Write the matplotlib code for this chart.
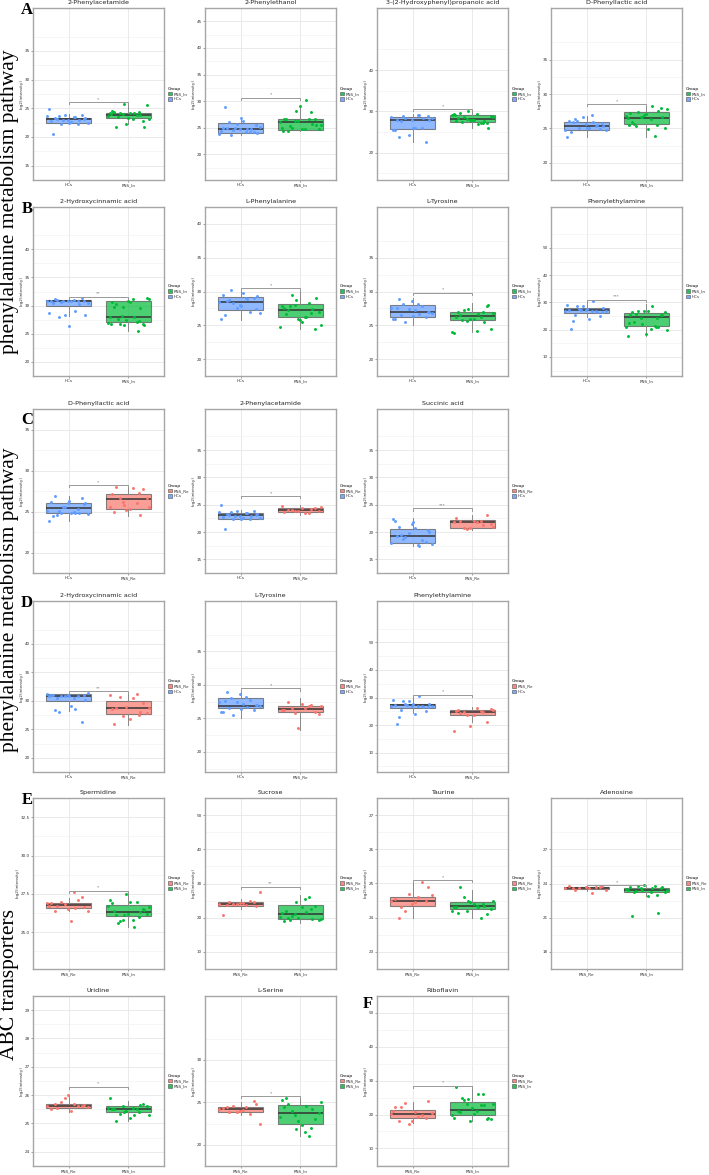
import numpy as np
import matplotlib
matplotlib.use("Agg")
import matplotlib.pyplot as plt
from matplotlib.patches import Patch

# ---------------- colours ----------------
COL = {"HCs": "#619CFF", "PNS_In": "#00BA38", "PNS_Re": "#F8766D"}

# ---------------- data (box = whislo, q1, med, q3, whishi) ----------------
# Row A
a1_title = "2-Phenylacetamide"
a1_box_hcs = [22.2, 22.43, 23.07, 23.35, 24.0]
a1_box_in = [22.3, 23.3, 23.85, 24.2, 25.7]
a1_pts_hcs = [23.6, 23.5, 23.1, 23.2, 22.9, 22.8, 22.3, 22.3, 22.5, 22.6, 23.3, 23.8, 23.9, 24.95, 23.5, 23.6, 23.3, 22.4, 20.5, 23.0, 22.9]
a1_pts_in = [24.5, 24.4, 24.0, 23.1, 23.2, 21.7, 22.8, 22.3, 24.2, 23.9, 24.1, 25.6, 24.1, 24.3, 23.8, 25.8, 23.6, 24.2, 23.5, 21.8, 23.4, 24.0]

a2_title = "2-Phenylethanol"
a2_box_hcs = [23.6, 24.06, 24.7, 25.9, 26.8]
a2_box_in = [24.4, 24.65, 26.06, 26.65, 29.1]
a2_pts_hcs = [23.8, 24.2, 26.0, 25.5, 24.7, 25.0, 24.2, 24.5, 25.2, 26.2, 24.9, 24.3, 25.8, 24.4, 24.8, 23.6, 24.0, 26.9, 29.0, 24.8, 25.0]
a2_pts_in = [26.6, 28.0, 26.3, 25.6, 24.8, 24.4, 26.6, 26.2, 25.0, 26.6, 24.9, 24.7, 24.8, 26.7, 25.8, 28.1, 26.0, 30.3, 25.3, 25.6, 29.1, 24.4]

a3_title = "3-(2-Hydroxyphenyl)propanoic acid"
a3_box_hcs = [22.6, 25.7, 27.8, 28.6, 29.4]
a3_box_in = [25.9, 27.35, 28.13, 29.16, 30.2]
a3_pts_hcs = [28.6, 29.2, 27.6, 28.8, 27.9, 25.5, 25.9, 28.4, 28.4, 26.0, 23.8, 22.7, 24.3, 25.6, 29.1, 29.0, 27.8, 26.0, 28.0, 28.5]
a3_pts_in = [27.7, 27.3, 28.2, 28.7, 29.4, 29.5, 27.2, 28.0, 29.3, 27.3, 28.6, 29.0, 27.8, 28.3, 27.6, 30.1, 29.2, 26.9, 27.5, 25.9, 28.0, 29.1]

a4_title = "D-Phenyllactic acid"
a4_box_hcs = [23.8, 24.8, 25.4, 26.0, 26.85]
a4_box_in = [23.8, 25.7, 26.55, 27.35, 28.2]
a4_pts_hcs = [24.8, 26.9, 26.4, 25.8, 25.6, 26.1, 25.4, 25.1, 24.7, 25.0, 26.0, 24.9, 26.6, 23.8, 25.9, 26.1, 25.3, 25.0, 24.5, 25.5]
a4_pts_in = [27.2, 25.5, 26.7, 27.8, 26.4, 25.7, 27.9, 26.9, 26.5, 23.9, 27.4, 25.1, 24.9, 26.0, 27.6, 26.6, 26.8, 28.2, 25.4, 26.7, 27.1, 25.5]

# Row B
b1_title = "2-Hydroxycinnamic acid"
b1_box_hcs = [28.1, 29.85, 30.9, 30.95, 31.35]
b1_box_in = [25.5, 27.1, 28.0, 30.8, 31.4]
b1_pts_hcs = [30.9, 31.0, 31.0, 30.9, 30.9, 30.8, 30.8, 30.6, 30.4, 30.9, 31.1, 31.3, 28.3, 28.6, 29.0, 28.0, 28.3, 26.3, 30.5, 30.2, 30.8]
b1_pts_in = [30.7, 27.3, 29.8, 31.1, 31.1, 30.2, 26.7, 27.5, 27.9, 27.0, 26.7, 31.3, 30.7, 29.7, 29.5, 26.5, 26.9, 28.0, 27.7, 26.5, 30.8, 26.7, 25.4, 28.2]

b2_title = "L-Phenylalanine"
b2_box_hcs = [25.8, 27.3, 28.5, 29.2, 30.3]
b2_box_in = [24.5, 26.3, 27.3, 28.2, 30.0]
b2_pts_hcs = [28.5, 29.0, 28.8, 27.4, 28.0, 29.5, 27.0, 28.3, 26.8, 29.8, 28.6, 29.1, 27.5, 26.0, 28.9, 30.2, 29.3, 27.8, 26.5]
b2_pts_in = [27.5, 26.8, 28.0, 25.0, 26.3, 27.2, 24.5, 26.0, 27.8, 28.3, 29.5, 27.0, 25.5, 26.6, 27.4, 28.8, 24.8, 26.2, 27.9, 29.0, 25.8]

b3_title = "L-Tyrosine"
b3_box_hcs = [25.0, 26.2, 27.0, 28.0, 29.0]
b3_box_in = [24.0, 25.8, 26.4, 27.0, 28.3]
b3_pts_hcs = [27.5, 28.2, 26.5, 27.0, 28.6, 26.0, 27.8, 25.5, 26.8, 27.2, 28.9, 26.3, 27.4, 25.9, 26.7, 28.1, 27.0, 26.4, 27.6]
b3_pts_in = [26.2, 27.0, 25.6, 26.8, 24.2, 26.5, 27.8, 25.9, 23.9, 26.3, 27.2, 24.5, 26.0, 26.9, 25.5, 27.4, 24.0, 26.6, 25.8, 28.0]

b4_title = "Phenylethylamine"
b4_box_hcs = [24.5, 26.1, 27.2, 27.8, 30.7]
b4_box_in = [17.7, 21.2, 24.8, 26.1, 29.3]
b4_pts_hcs = [26.8, 27.0, 25.5, 26.4, 27.1, 27.3, 26.9, 27.5, 26.8, 24.0, 23.0, 25.0, 28.8, 29.0, 30.4, 28.7, 27.8, 27.6, 20.4, 26.5, 27.2]
b4_pts_in = [25.4, 24.4, 24.1, 20.0, 20.2, 22.7, 25.5, 26.9, 17.8, 21.3, 27.0, 26.4, 26.7, 26.5, 21.0, 22.0, 21.1, 28.5, 25.8, 25.3, 18.5, 22.3, 20.9]

# Row C
c1_title = "D-Phenyllactic acid"
c1_box_hcs = [23.8, 24.86, 25.43, 26.07, 26.9]
c1_box_re = [24.5, 25.36, 26.5, 27.1, 28.07]
c1_pts_hcs = [25.1, 25.0, 24.6, 25.9, 26.0, 26.1, 25.3, 24.8, 24.7, 24.8, 26.9, 26.6, 25.5, 23.8, 24.8, 25.1, 26.0, 26.3, 24.4, 24.8, 25.5]
c1_pts_re = [27.1, 27.2, 26.1, 25.6, 27.9, 28.0, 27.8, 25.2, 25.5, 26.0, 26.6, 26.6, 25.3, 24.9, 24.6, 25.8]

c2_title = "2-Phenylacetamide"
c2_box_hcs = [22.2, 22.45, 23.2, 23.4, 24.0]
c2_box_re = [23.2, 23.6, 24.0, 24.3, 24.9]
c2_pts_hcs = [23.6, 23.5, 23.1, 23.2, 22.9, 22.8, 22.3, 22.3, 22.5, 22.6, 23.3, 23.8, 23.9, 24.95, 23.5, 23.6, 23.3, 22.4, 20.5, 23.0, 22.9]
c2_pts_re = [23.7, 24.2, 23.9, 24.6, 23.5, 24.0, 24.3, 23.8, 24.8, 23.4, 24.1, 23.9, 24.4]

c3_title = "Succinic acid"
c3_box_hcs = [17.5, 17.9, 19.2, 20.5, 22.5]
c3_box_re = [20.3, 20.8, 21.8, 22.2, 23.2]
c3_pts_hcs = [18.0, 17.6, 19.5, 20.3, 21.5, 22.0, 18.5, 19.0, 17.8, 20.8, 21.0, 18.2, 19.8, 22.3, 17.5, 18.8, 20.0, 21.8, 19.3]
c3_pts_re = [22.5, 21.2, 20.6, 20.9, 21.8, 22.0, 23.2, 20.7, 21.9, 22.1, 20.8, 21.5, 22.0]

# Row D
d1_title = "2-Hydroxycinnamic acid"
d1_box_hcs = [28.2, 29.9, 30.9, 31.2, 31.6]
d1_box_re = [25.8, 27.7, 28.75, 29.95, 31.5]
d1_pts_hcs = [31.1, 30.5, 30.5, 31.0, 31.0, 31.0, 30.9, 30.8, 31.3, 29.0, 28.3, 26.3, 30.9, 30.9, 28.6, 28.0, 30.2, 30.8, 31.0]
d1_pts_re = [28.5, 27.5, 27.3, 28.8, 30.4, 28.7, 29.6, 28.9, 31.0, 31.2, 30.7, 27.9, 26.8, 25.9, 28.1]

d2_title = "L-Tyrosine"
d2_box_hcs = [25.0, 26.6, 26.9, 27.97, 29.0]
d2_box_re = [23.3, 25.9, 26.4, 26.9, 28.0]
d2_pts_hcs = [27.5, 28.2, 26.5, 27.0, 28.6, 26.0, 27.8, 25.5, 26.8, 27.2, 28.9, 26.3, 27.4, 25.9, 26.7, 28.1, 27.0, 26.4, 27.6]
d2_pts_re = [26.2, 27.0, 25.8, 26.8, 26.5, 27.5, 25.9, 23.5, 26.3, 26.9, 26.6, 25.6, 27.2]

d3_title = "Phenylethylamine"
d3_box_hcs = [24.5, 26.1, 27.2, 27.8, 30.7]
d3_box_re = [21.0, 23.5, 24.8, 25.5, 26.5]
d3_pts_hcs = [26.8, 27.0, 25.5, 26.4, 27.1, 27.3, 26.9, 27.5, 26.8, 24.0, 23.0, 25.0, 28.8, 29.0, 30.4, 28.7, 27.8, 27.6, 20.4, 26.5, 27.2]
d3_pts_re = [25.0, 24.8, 23.8, 25.5, 26.3, 24.5, 21.0, 19.5, 18.0, 25.2, 24.9, 26.0, 23.6, 25.3]

# Row E
e1_title = "Spermidine"
e1_box_re = [26.38, 26.55, 26.8, 26.9, 27.22]
e1_box_in = [25.33, 26.04, 26.29, 26.78, 27.7]
e1_pts_re = [26.93, 27.62, 26.74, 26.64, 26.5, 26.91, 27.11, 26.97, 26.37, 25.72, 26.41, 27.27, 26.84, 26.68, 26.6]
e1_pts_in = [26.93, 25.96, 25.8, 26.66, 25.82, 26.15, 26.48, 27.5, 27.09, 26.97, 25.7, 26.17, 26.97, 26.39, 26.29, 26.15, 26.68, 25.31, 25.6, 26.45, 26.21]

e2_title = "Sucrose"
e2_box_re = [22.5, 23.5, 24.0, 24.5, 25.5]
e2_box_in = [18.5, 19.5, 21.0, 23.8, 26.5]
e2_pts_re = [24.0, 23.8, 24.5, 23.5, 24.2, 20.8, 24.8, 23.9, 27.5, 24.3, 23.6, 24.6, 24.1]
e2_pts_in = [19.0, 22.5, 21.0, 19.5, 25.5, 20.0, 23.5, 19.8, 21.5, 26.0, 20.5, 19.2, 23.0, 22.0, 19.6, 24.5, 20.2, 21.8, 19.3]

e3_title = "Taurine"
e3_box_re = [24.0, 24.35, 24.5, 24.6, 25.0]
e3_box_in = [24.0, 24.25, 24.35, 24.45, 24.8]
e3_pts_re = [24.5, 24.6, 24.3, 24.9, 24.4, 24.55, 25.05, 24.2, 24.65, 24.45, 24.0, 24.5, 24.7]
e3_pts_in = [24.3, 24.4, 24.2, 24.5, 24.35, 24.9, 24.1, 24.45, 24.3, 24.0, 24.6, 24.25, 24.4, 24.15, 24.35, 24.5, 24.2, 24.3]

e4_title = "Adenosine"
e4_box_re = [23.35, 23.5, 23.62, 23.73, 23.8]
e4_box_in = [22.9, 23.26, 23.44, 23.64, 23.89]
e4_pts_re = [23.57, 23.19, 23.41, 23.75, 23.68, 23.8, 23.73, 23.64, 23.44, 23.62, 23.59, 23.7]
e4_pts_in = [23.68, 23.03, 23.57, 23.39, 23.23, 23.28, 23.62, 23.84, 23.46, 23.75, 23.8, 23.23, 22.9, 21.16, 21.43, 23.39, 23.5, 23.57, 23.35, 23.7]

# Row E (second line) and F
e5_title = "Uridine"
e5_box_re = [25.4, 25.55, 25.62, 25.7, 26.0]
e5_box_in = [25.1, 25.4, 25.5, 25.6, 25.8]
e5_pts_re = [25.6, 25.7, 25.55, 25.65, 26.0, 25.5, 25.62, 25.75, 25.58, 25.45, 25.68, 25.6, 25.9]
e5_pts_in = [25.5, 25.4, 25.6, 25.3, 25.55, 25.1, 25.7, 25.45, 25.9, 25.5, 25.35, 25.6, 25.2, 25.5, 25.65, 25.4, 25.55, 25.3]

e6_title = "L-Serine"
e6_box_re = [23.5, 23.9, 24.2, 24.5, 25.0]
e6_box_in = [21.0, 22.5, 23.7, 24.7, 25.5]
e6_pts_re = [24.2, 24.5, 23.9, 24.8, 24.0, 24.3, 23.6, 24.6, 22.5, 24.1, 24.4, 25.2, 23.8]
e6_pts_in = [24.5, 22.0, 23.5, 25.0, 21.5, 24.8, 23.0, 22.8, 25.3, 21.0, 24.0, 23.7, 22.3, 25.5, 24.2, 21.8, 23.3, 24.6]

f1_title = "Riboflavin"
f1_box_re = [17.5, 19.1, 20.2, 21.3, 23.7]
f1_box_in = [18.2, 19.88, 21.35, 23.65, 28.5]
f1_pts_re = [20.06, 19.33, 22.09, 23.93, 18.04, 22.18, 19.88, 23.47, 20.52, 20.62, 18.22, 18.87, 17.3, 20.98]
f1_pts_in = [28.07, 26.04, 23.19, 23.1, 20.98, 20.8, 18.78, 18.22, 19.05, 22.73, 24.39, 18.68, 20.06, 21.17, 22.82, 24.48, 19.97, 26.04, 24.94, 18.96, 21.9]

# significance labels and bracket heights
sig_labels = {"a1": "*", "a2": "*", "a3": "*", "a4": "*", "b1": "**", "b2": "*", "b3": "*", "b4": "***",
              "c1": "*", "c2": "*", "c3": "***", "d1": "**", "d2": "*", "d3": "*",
              "e1": "*", "e2": "**", "e3": "*", "e4": "*", "e5": "*", "e6": "*", "f1": "*"}
bracket_y = {"a1": 26.1, "a2": 30.6, "a3": 30.5, "a4": 28.5, "b1": 31.6, "b2": 30.5, "b3": 29.8, "b4": 31.0,
             "c1": 28.2, "c2": 26.5, "c3": 24.3, "d1": 31.7, "d2": 29.5, "d3": 31.0,
             "e1": 27.71, "e2": 29.0, "e3": 25.1, "e4": 23.9, "e5": 26.3, "e6": 25.7, "f1": 28.5}

# ---------------- layout (pixels) ----------------
W, H = 709, 1175
fig = plt.figure(figsize=(W / 100, H / 100), dpi=100)

def add_ax(left, top, bottom, width=131):
    return fig.add_axes([left / W, 1 - bottom / H, width / W, (bottom - top) / H])

def panel(ax, title, groups, boxes, pts, ylim, yticks, key, legend_order, fmt="{:g}"):
    ax.set_facecolor("white")
    step = yticks[1] - yticks[0]
    minor = np.arange(yticks[0] - step / 2, ylim[1] + step, step)

    stats = []
    for b in boxes:
        stats.append(dict(whislo=b[0], q1=b[1], med=b[2], q3=b[3], whishi=b[4], fliers=[]))
    art = ax.bxp(stats, positions=[1, 2], widths=0.75, patch_artist=True, showcaps=False,
                 showfliers=False, manage_ticks=False,
                 boxprops=dict(edgecolor="#555555", linewidth=0.8),
                 whiskerprops=dict(color="#888888", linewidth=0.7),
                 medianprops=dict(color="#333333", linewidth=1.1))
    for patch, g in zip(art["boxes"], groups):
        patch.set_facecolor(COL[g])
        patch.set_alpha(0.7)
        patch.set_edgecolor("#555555")
    for i, (g, p) in enumerate(zip(groups, pts)):
        n = len(p)
        jit = ((np.arange(n) * 0.618034 + 0.13 * i) % 1.0 - 0.5) * 0.72
        ax.scatter(1 + i + jit, p, s=4.5, color=COL[g], zorder=5, linewidths=0)

    ax.set_xlim(0.4, 2.6)
    ax.set_ylim(*ylim)
    ax.set_yticks(yticks)
    ax.set_yticks(minor, minor=True)
    ax.set_yticklabels([fmt.format(t) for t in yticks])
    ax.set_xticks([1, 2])
    ax.set_xticklabels(groups)
    ax.grid(True, which="major", color="#e6e6e6", lw=0.6)
    ax.grid(True, which="minor", axis="y", color="#f0f0f0", lw=0.4)
    ax.set_axisbelow(True)
    for s in ax.spines.values():
        s.set_color("#a6a6a6")
        s.set_linewidth(1.0)
    ax.tick_params(axis="both", labelsize=3.0, length=1.2, width=0.4, color="#555555",
                   labelcolor="#333333", pad=1.0)
    ax.tick_params(axis="y", which="minor", length=0)
    ax.set_ylabel("log2(intensity)", fontsize=3.0, color="#333333", labelpad=1.0)
    ax.set_title(title, fontsize=4.6, color="#222222", pad=3)

    by = bracket_y[key]
    rng = ylim[1] - ylim[0]
    tip = 0.015 * rng
    ax.plot([1, 1, 2, 2], [by - tip, by, by, by - tip], color="#999999", lw=0.7, zorder=6)
    ax.text(1.5, by + 0.02 * rng, sig_labels[key], ha="center", va="center", fontsize=3.2,
            color="#666666")

    handles = [Patch(facecolor=COL[g], edgecolor="#555555", linewidth=0.5, alpha=0.85) for g in legend_order]
    leg = ax.legend(handles, legend_order, title="Group", loc="center left",
                    bbox_to_anchor=(1.01, 0.5), frameon=False, fontsize=3.0, title_fontsize=3.2,
                    handlelength=0.9, handleheight=0.9, handletextpad=0.4, labelspacing=0.25,
                    borderaxespad=0.2)
    leg._legend_box.align = "left"
    leg.set_zorder(20)
    for t in leg.get_texts():
        t.set_color("#333333")

cols = [33, 205, 377, 551]
rA = (8, 180); rB = (207, 376); rC = (409, 573); rD = (601, 772); rE = (798, 969); rF = (996, 1166)

AB = ["HCs", "PNS_In"]; AB_leg = ["PNS_In", "HCs"]
CD = ["HCs", "PNS_Re"]; CD_leg = ["PNS_Re", "HCs"]
EF = ["PNS_Re", "PNS_In"]; EF_leg = ["PNS_Re", "PNS_In"]

specs = [
    (cols[0], rA, a1_title, AB, [a1_box_hcs, a1_box_in], [a1_pts_hcs, a1_pts_in], (14.1, 37.7), [15, 20, 25, 30, 35], "a1", AB_leg, "{:g}"),
    (cols[1], rA, a2_title, AB, [a2_box_hcs, a2_box_in], [a2_pts_hcs, a2_pts_in], (15.2, 45.4), [20, 25, 30, 35, 40, 45], "a2", AB_leg, "{:g}"),
    (cols[2], rA, a3_title, AB, [a3_box_hcs, a3_box_in], [a3_pts_hcs, a3_pts_in], (13.4, 46.6), [20, 30, 40], "a3", AB_leg, "{:g}"),
    (cols[3], rA, a4_title, AB, [a4_box_hcs, a4_box_in], [a4_pts_hcs, a4_pts_in], (18.4, 38.1), [20, 25, 30, 35], "a4", AB_leg, "{:g}"),
    (cols[0], rB, b1_title, AB, [b1_box_hcs, b1_box_in], [b1_pts_hcs, b1_pts_in], (18.2, 44.3), [20, 25, 30, 35, 40], "b1", AB_leg, "{:g}"),
    (cols[1], rB, b2_title, AB, [b2_box_hcs, b2_box_in], [b2_pts_hcs, b2_pts_in], (18.0, 41.5), [20, 25, 30, 35, 40], "b2", AB_leg, "{:g}"),
    (cols[2], rB, b3_title, AB, [b3_box_hcs, b3_box_in], [b3_pts_hcs, b3_pts_in], (17.5, 40.0), [20, 25, 30, 35], "b3", AB_leg, "{:g}"),
    (cols[3], rB, b4_title, AB, [b4_box_hcs, b4_box_in], [b4_pts_hcs, b4_pts_in], (3.0, 57.8), [10, 20, 30, 40, 50], "b4", AB_leg, "{:g}"),
    (cols[0], rC, c1_title, CD, [c1_box_hcs, c1_box_re], [c1_pts_hcs, c1_pts_re], (18.9, 36.5), [20, 25, 30, 35], "c1", CD_leg, "{:g}"),
    (cols[1], rC, c2_title, CD, [c2_box_hcs, c2_box_re], [c2_pts_hcs, c2_pts_re], (13.8, 37.9), [15, 20, 25, 30, 35], "c2", CD_leg, "{:g}"),
    (cols[2], rC, c3_title, CD, [c3_box_hcs, c3_box_re], [c3_pts_hcs, c3_pts_re], (13.5, 38.0), [15, 20, 25, 30, 35], "c3", CD_leg, "{:g}"),
    (cols[0], rD, d1_title, CD, [d1_box_hcs, d1_box_re], [d1_pts_hcs, d1_pts_re], (19.0, 43.7), [20, 25, 30, 35, 40], "d1", CD_leg, "{:g}"),
    (cols[1], rD, d2_title, CD, [d2_box_hcs, d2_box_re], [d2_pts_hcs, d2_pts_re], (17.0, 40.1), [20, 25, 30, 35], "d2", CD_leg, "{:g}"),
    (cols[2], rD, d3_title, CD, [d3_box_hcs, d3_box_re], [d3_pts_hcs, d3_pts_re], (3.0, 57.8), [10, 20, 30, 40, 50], "d3", CD_leg, "{:g}"),
    (cols[0], rE, e1_title, EF, [e1_box_re, e1_box_in], [e1_pts_re, e1_pts_in], (22.6, 32.6), [25.0, 27.5, 30.0, 32.5], "e1", EF_leg, "{:.1f}"),
    (cols[1], rE, e2_title, EF, [e2_box_re, e2_box_in], [e2_pts_re, e2_pts_in], (5.0, 51.0), [10, 20, 30, 40, 50], "e2", EF_leg, "{:g}"),
    (cols[2], rE, e3_title, EF, [e3_box_re, e3_box_in], [e3_pts_re, e3_pts_in], (22.9, 27.05), [23, 24, 25, 26, 27], "e3", EF_leg, "{:g}"),
    (cols[3], rE, e4_title, EF, [e4_box_re, e4_box_in], [e4_pts_re, e4_pts_in], (17.95, 29.6), [18, 21, 24, 27], "e4", EF_leg, "{:g}"),
    (cols[0], rF, e5_title, EF, [e5_box_re, e5_box_in], [e5_pts_re, e5_pts_in], (23.54, 29.02), [24, 25, 26, 27, 28, 29], "e5", EF_leg, "{:g}"),
    (cols[1], rF, e6_title, EF, [e6_box_re, e6_box_in], [e6_pts_re, e6_pts_in], (17.5, 34.0), [20, 25, 30], "e6", EF_leg, "{:g}"),
    (cols[2], rF, f1_title, EF, [f1_box_re, f1_box_in], [f1_pts_re, f1_pts_in], (4.8, 51.6), [10, 20, 30, 40, 50], "f1", EF_leg, "{:g}"),
]

for left, (top, bottom), title, groups, boxes, pts, ylim, yt, key, legord, fmt in specs:
    ax = add_ax(left, top, bottom)
    panel(ax, title, groups, boxes, pts, ylim, yt, key, legord, fmt)

# row labels
serif = ["Liberation Serif", "DejaVu Serif"]
for text, yc in [("phenylalanine metabolism pathway", 202), ("phenylalanine metabolism pathway", 600),
                 ("ABC transporters", 985)]:
    fig.text(9.5 / W, 1 - yc / H, text, rotation=90, ha="center", va="center",
             fontsize=15.5, family=serif)

letters = [("A", 27, 10), ("B", 27, 209), ("C", 27, 420), ("D", 27, 603), ("E", 27, 800), ("F", 368, 1004)]
for L, x, y in letters:
    fig.text(x / W, 1 - y / H, L, ha="center", va="center", fontsize=12, fontweight="bold", family=serif)

fig.savefig("out.png", dpi=100, facecolor="white")
